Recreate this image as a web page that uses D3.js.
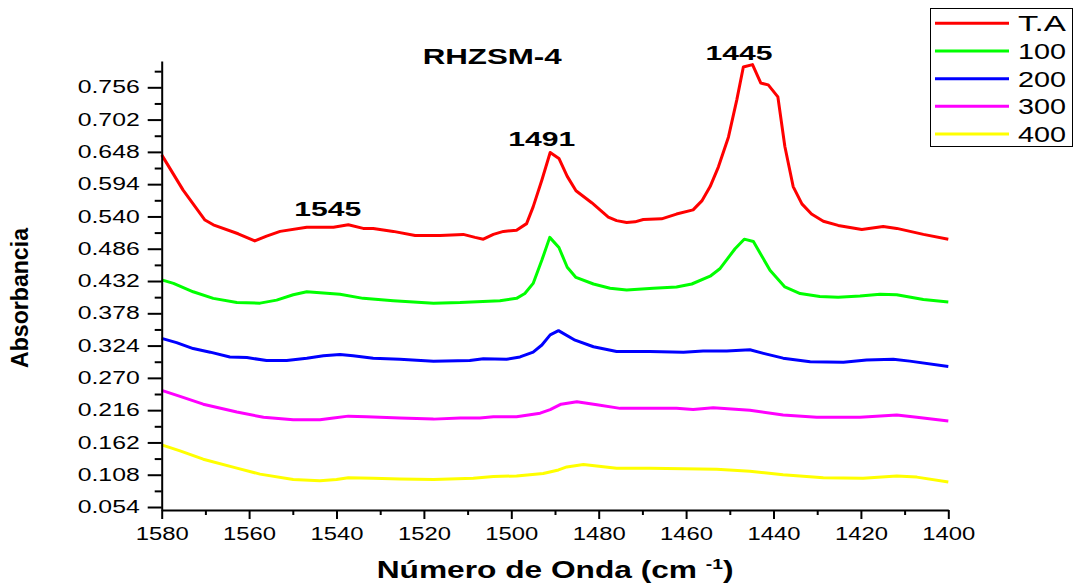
<!DOCTYPE html>
<html>
<head>
<meta charset="utf-8">
<script src="https://cdn.jsdelivr.net/npm/d3@7"></script>
<style>
  html, body { margin: 0; padding: 0; background: #fff; }
  svg { display: block; font-family: "Liberation Sans", Arial, sans-serif; }
</style>
</head>
<body>
<svg id="chart" width="1075" height="586"></svg>
<script>
// ---------- data ----------
const seriesNames = ["T.A", "100", "200", "300", "400"];
const seriesColors = ["#ff0000", "#00ff00", "#0000ff", "#ff00ff", "#ffff00"];

const wnTA = [1580, 1575.1, 1570.1, 1568.2, 1562.5, 1558.7, 1556, 1552.9, 1546.8, 1540.7, 1537.3, 1533.9, 1531.6, 1527, 1522, 1516.3, 1511, 1508.3, 1506.4, 1504.1, 1501.8, 1498.8, 1496.5, 1495, 1493, 1491.1, 1489.1, 1487.2, 1485.2, 1481.6, 1477.8, 1475.9, 1473.6, 1471.7, 1469.8, 1465.6, 1462.2, 1458.4, 1456.4, 1454.5, 1452.6, 1450.3, 1448.4, 1446.9, 1444.8, 1442.9, 1441.2, 1439.0, 1437.4, 1435.5, 1433.5, 1431.3, 1428.6, 1425.2, 1419.8, 1414.9, 1411.8, 1405.7, 1400];
const absTA = [0.643, 0.584, 0.534, 0.526, 0.511, 0.499, 0.507, 0.515, 0.522, 0.522, 0.526, 0.520, 0.520, 0.515, 0.508, 0.508, 0.510, 0.505, 0.502, 0.510, 0.515, 0.517, 0.528, 0.556, 0.601, 0.647, 0.637, 0.607, 0.583, 0.563, 0.539, 0.533, 0.530, 0.531, 0.535, 0.536, 0.544, 0.551, 0.566, 0.590, 0.623, 0.673, 0.735, 0.790, 0.794, 0.763, 0.760, 0.740, 0.657, 0.590, 0.561, 0.544, 0.532, 0.525, 0.518, 0.523, 0.520, 0.510, 0.502];

const wn100 = [1580, 1577.3, 1572.8, 1568.2, 1562.8, 1557.5, 1553.7, 1549.9, 1546.8, 1539.2, 1533.9, 1527, 1517.8, 1511.7, 1502.6, 1498.8, 1496.9, 1495, 1493, 1491.2, 1489.1, 1487.2, 1485.2, 1481.2, 1477.4, 1473.6, 1467.5, 1462.2, 1458.7, 1454.5, 1452.2, 1448.8, 1446.7, 1444.6, 1440.8, 1437.4, 1433.9, 1429.4, 1425.2, 1420.2, 1415.6, 1411.8, 1405.7, 1400];
const abs100 = [0.434, 0.428, 0.414, 0.403, 0.396, 0.395, 0.400, 0.409, 0.414, 0.410, 0.403, 0.399, 0.395, 0.396, 0.399, 0.403, 0.411, 0.428, 0.467, 0.505, 0.488, 0.455, 0.438, 0.427, 0.420, 0.417, 0.420, 0.422, 0.427, 0.440, 0.453, 0.486, 0.502, 0.498, 0.450, 0.422, 0.411, 0.406, 0.405, 0.407, 0.410, 0.409, 0.401, 0.397];

const wn200 = [1580, 1576.6, 1572.8, 1568.9, 1564.4, 1560.5, 1556, 1551.4, 1546.8, 1543, 1539.2, 1536.2, 1531.6, 1525.5, 1517.8, 1509.5, 1506.4, 1501.1, 1498, 1495, 1493, 1491.1, 1489.2, 1485.4, 1481.2, 1475.9, 1468.3, 1460.6, 1456.1, 1450.7, 1445.4, 1442.3, 1437.8, 1431.6, 1424, 1418.7, 1412.6, 1408.8, 1400];
const abs200 = [0.336, 0.329, 0.319, 0.313, 0.305, 0.304, 0.299, 0.299, 0.303, 0.307, 0.309, 0.307, 0.303, 0.301, 0.298, 0.299, 0.302, 0.301, 0.305, 0.313, 0.325, 0.342, 0.349, 0.333, 0.322, 0.314, 0.314, 0.313, 0.315, 0.315, 0.317, 0.311, 0.303, 0.297, 0.296, 0.300, 0.301, 0.298, 0.289];

const wn300 = [1580, 1575.8, 1570.5, 1562.8, 1556.7, 1549.9, 1543.8, 1540.7, 1537.3, 1533.1, 1525.5, 1517.8, 1511.7, 1507.2, 1504.1, 1498.8, 1493.4, 1491.1, 1488.6, 1485, 1480.4, 1475.1, 1468.3, 1462.2, 1458.4, 1453.8, 1445.4, 1437.8, 1430.1, 1420.2, 1411.8, 1407.2, 1400];
const abs300 = [0.249, 0.239, 0.226, 0.213, 0.204, 0.200, 0.200, 0.203, 0.206, 0.205, 0.203, 0.201, 0.203, 0.203, 0.205, 0.205, 0.211, 0.217, 0.226, 0.230, 0.225, 0.219, 0.219, 0.219, 0.217, 0.220, 0.216, 0.208, 0.204, 0.204, 0.208, 0.204, 0.198];

const wn400 = [1580, 1575.8, 1570.5, 1562.8, 1557.5, 1549.9, 1543.8, 1540, 1537.3, 1531.6, 1525.5, 1517.8, 1508.7, 1504.1, 1498.8, 1492.7, 1489.2, 1487.3, 1483.5, 1475.9, 1468.3, 1460.6, 1453, 1445.4, 1437.8, 1428.6, 1419.5, 1411.8, 1407.2, 1400];
const abs400 = [0.158, 0.148, 0.134, 0.119, 0.109, 0.100, 0.098, 0.100, 0.103, 0.102, 0.101, 0.100, 0.102, 0.105, 0.106, 0.110, 0.116, 0.121, 0.125, 0.119, 0.119, 0.118, 0.117, 0.114, 0.108, 0.103, 0.102, 0.106, 0.104, 0.096];

const xMajorTicks = [1580, 1560, 1540, 1520, 1500, 1480, 1460, 1440, 1420, 1400];
const xMinorTicks = [1570, 1550, 1530, 1510, 1490, 1470, 1450, 1430, 1410];
const yMajorTicks = [0.054, 0.108, 0.162, 0.216, 0.270, 0.324, 0.378, 0.432, 0.486, 0.540, 0.594, 0.648, 0.702, 0.756];
const yMinorTicks = [0.081, 0.135, 0.189, 0.243, 0.297, 0.351, 0.405, 0.459, 0.513, 0.567, 0.621, 0.675, 0.729, 0.783];

const peakLabels = ["1545", "1491", "1445"];
const peakLabelWn = [1542, 1493, 1447.9];
const peakLabelAbs = [0.540, 0.657, 0.801];

const chartTitle = "RHZSM-4";
const yTitle = "Absorbancia";

// ---------- layout ----------
const svg = d3.select("#chart");
const x = d3.scaleLinear().domain([1580, 1400]).range([161.7, 948.3]);
const y = d3.scaleLinear().domain([0.049, 0.8]).range([510, 61]);

const series = [
  d3.zip(wnTA, absTA), d3.zip(wn100, abs100), d3.zip(wn200, abs200),
  d3.zip(wn300, abs300), d3.zip(wn400, abs400)
];

const line = d3.line().x(d => x(d[0])).y(d => y(d[1])).curve(d3.curveLinear);

svg.append("g").selectAll("path").data(series).join("path")
  .attr("d", line)
  .attr("fill", "none")
  .attr("stroke", (d, i) => seriesColors[i])
  .attr("stroke-width", 3)
  .attr("stroke-linejoin", "round");

// ---------- axes ----------
function styleAxis(g) {
  g.selectAll("path.domain").attr("stroke", "#000").attr("stroke-width", 2);
  g.selectAll(".tick line").attr("stroke", "#000").attr("stroke-width", 2);
}

const gx = svg.append("g").attr("transform", "translate(0,510)")
  .call(d3.axisBottom(x).tickValues(xMajorTicks).tickSize(9).tickSizeOuter(0).tickFormat(d3.format("d")));
styleAxis(gx);
gx.selectAll(".tick text")
  .attr("y", 30).attr("dy", 0)
  .attr("font-size", 18).attr("fill", "#000")
  .attr("font-family", "Liberation Sans, Arial, sans-serif")
  .attr("textLength", 53).attr("lengthAdjust", "spacingAndGlyphs");
const gxm = svg.append("g").attr("transform", "translate(0,510)")
  .call(d3.axisBottom(x).tickValues(xMinorTicks).tickSize(5).tickSizeOuter(0).tickFormat(""));
gxm.select("path.domain").remove();
styleAxis(gxm);

const gy = svg.append("g").attr("transform", "translate(161.7,0)")
  .call(d3.axisLeft(y).tickValues(yMajorTicks).tickSize(14).tickSizeOuter(0).tickFormat(d3.format(".3f")));
styleAxis(gy);
gy.selectAll(".tick text")
  .attr("x", -22).attr("dy", "0.32em")
  .attr("font-size", 17.5).attr("fill", "#000")
  .attr("font-family", "Liberation Sans, Arial, sans-serif")
  .attr("textLength", 62).attr("lengthAdjust", "spacingAndGlyphs");
const gym = svg.append("g").attr("transform", "translate(161.7,0)")
  .call(d3.axisLeft(y).tickValues(yMinorTicks).tickSize(7).tickSizeOuter(0).tickFormat(""));
gym.select("path.domain").remove();
styleAxis(gym);

// ---------- titles ----------
svg.append("text")
  .attr("x", 422.7).attr("y", 64)
  .attr("font-size", 22).attr("font-weight", "bold")
  .attr("textLength", 139).attr("lengthAdjust", "spacingAndGlyphs")
  .text(chartTitle);

svg.append("text")
  .attr("transform", "translate(28,368) rotate(-90)")
  .attr("font-size", 23).attr("font-weight", "bold")
  .attr("textLength", 140).attr("lengthAdjust", "spacingAndGlyphs")
  .text(yTitle);

const xtG = svg.append("g");
const xt = xtG.append("text").attr("font-size", 23).attr("font-weight", "bold");
xt.append("tspan").text("Número de Onda (cm ");
xt.append("tspan").attr("dy", -9).attr("font-size", 14).text("-1");
xt.append("tspan").attr("dy", 9).attr("font-size", 23).text(")");
const bw = xt.node().getBBox().width;
xtG.attr("transform", `translate(376.7,578) scale(${357 / bw},1)`);

// ---------- peak labels ----------
svg.append("g").selectAll("text").data(peakLabels).join("text")
  .attr("x", (d, i) => x(peakLabelWn[i]))
  .attr("y", (d, i) => y(peakLabelAbs[i]))
  .attr("text-anchor", "middle")
  .attr("font-size", 21).attr("font-weight", "bold")
  .attr("textLength", 67).attr("lengthAdjust", "spacingAndGlyphs")
  .text(d => d);

// ---------- legend ----------
const lg = svg.append("g");
lg.append("rect").attr("x", 930.5).attr("y", 8.5).attr("width", 142).attr("height", 138)
  .attr("fill", "#fff").attr("stroke", "#000").attr("stroke-width", 1);
const rowY = d3.scaleLinear().domain([0, 4]).range([23.3, 134]);
const items = lg.selectAll("g.item").data(seriesNames).join("g").attr("class", "item")
  .attr("transform", (d, i) => `translate(0,${rowY(i)})`);
items.append("line").attr("x1", 935).attr("x2", 1009).attr("y1", 0).attr("y2", 0)
  .attr("stroke", (d, i) => seriesColors[i]).attr("stroke-width", 3);
items.append("text").attr("x", 1018).attr("y", 8)
  .attr("font-size", 22)
  .attr("textLength", 48).attr("lengthAdjust", "spacingAndGlyphs")
  .text(d => d);
</script>
</body>
</html>
